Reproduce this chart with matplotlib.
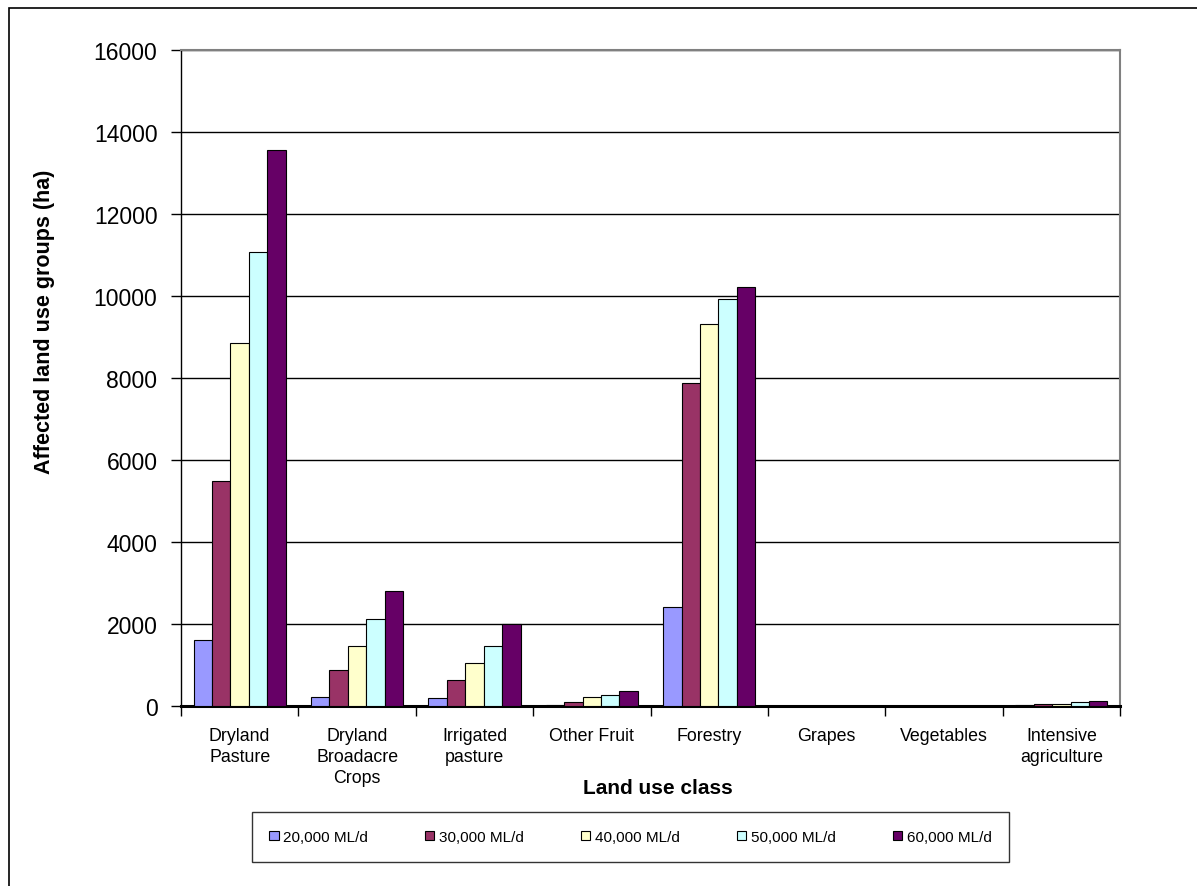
import matplotlib
matplotlib.use("Agg")
import matplotlib.pyplot as plt
import numpy as np
from matplotlib.patches import Rectangle

plt.rcParams['font.family'] = ['Liberation Sans', 'DejaVu Sans']

categories = ["Dryland\nPasture", "Dryland\nBroadacre\nCrops", "Irrigated\npasture",
              "Other Fruit", "Forestry", "Grapes", "Vegetables", "Intensive\nagriculture"]
series_names = ["20,000 ML/d", "30,000 ML/d", "40,000 ML/d", "50,000 ML/d", "60,000 ML/d"]
s20 = [1620, 220, 195, 20, 2410, 2, 2, 20]
s30 = [5500, 880, 630, 90, 7880, 3, 3, 60]
s40 = [8850, 1470, 1040, 220, 9310, 3, 5, 60]
s50 = [11070, 2130, 1470, 270, 9920, 4, 8, 100]
s60 = [13570, 2800, 2000, 360, 10230, 5, 12, 120]
colors = ["#9999FF", "#993366", "#FFFFCC", "#CCFFFF", "#660066"]
yticks = [0, 2000, 4000, 6000, 8000, 10000, 12000, 14000, 16000]

W, H = 1197, 887
fig = plt.figure(figsize=(W / 100, H / 100), dpi=100)
ax = fig.add_axes([181 / W, (H - 707) / H, 939 / W, 656 / H])

# outer chart frame
fig.patches.append(Rectangle((9 / W, -0.05), 1.2, (H - 9) / H + 0.05, transform=fig.transFigure,
                             fill=False, edgecolor="#000000", linewidth=1.2, zorder=0))

x = np.arange(len(categories))
bw = 0.157
all_series = [s20, s30, s40, s50, s60]
for i, (vals, c, name) in enumerate(zip(all_series, colors, series_names)):
    ax.bar(x + (i - 2) * bw, vals, width=bw, color=c, edgecolor="#000000",
           linewidth=0.8, label=name, zorder=3)

ax.set_xlim(-0.5, len(categories) - 0.5)
ax.set_ylim(0, 16000)
ax.set_yticks(yticks)
ax.set_yticklabels([str(v) for v in yticks], fontsize=16.5)
ax.yaxis.grid(True, color="#000000", linewidth=1.0, zorder=0)
ax.set_axisbelow(True)

ax.set_xticks(x)
ax.set_xticklabels(categories, fontsize=12.8, linespacing=1.33)
ax.tick_params(axis='x', length=0, pad=15)
ax.set_xticks(np.arange(-0.5, len(categories), 1.0), minor=True)
ax.tick_params(axis='x', which='minor', length=7, width=1, color="#000000", direction='out')
ax.tick_params(axis='y', length=7, width=1, color="#000000", direction='out', pad=10)

for s in ['top', 'right']:
    ax.spines[s].set_color("#808080")
    ax.spines[s].set_linewidth(1.5)
ax.spines['left'].set_color("#000000")
ax.spines['left'].set_linewidth(1.0)
ax.spines['bottom'].set_color("#000000")
ax.spines['bottom'].set_linewidth(2.2)

fig.text(658 / W, 1 - 789 / H, "Land use class", fontsize=15, fontweight='bold',
         ha='center', va='center')
fig.text(45 / W, 1 - 322 / H, "Affected land use groups (ha)", fontsize=15.5,
         fontweight='bold', ha='center', va='center', rotation=90)

leg = fig.legend(loc='center', bbox_to_anchor=(630.5 / W, 1 - 838 / H), ncol=5,
                 fontsize=11, frameon=True, fancybox=False, edgecolor="#000000",
                 handlelength=0.6, handleheight=0.6, handletextpad=0.3,
                 columnspacing=3.75, borderpad=1.15)
leg.get_frame().set_linewidth(1.0)
for h in leg.legend_handles:
    h.set_linewidth(0.8)

fig.savefig("out.png", dpi=100)
